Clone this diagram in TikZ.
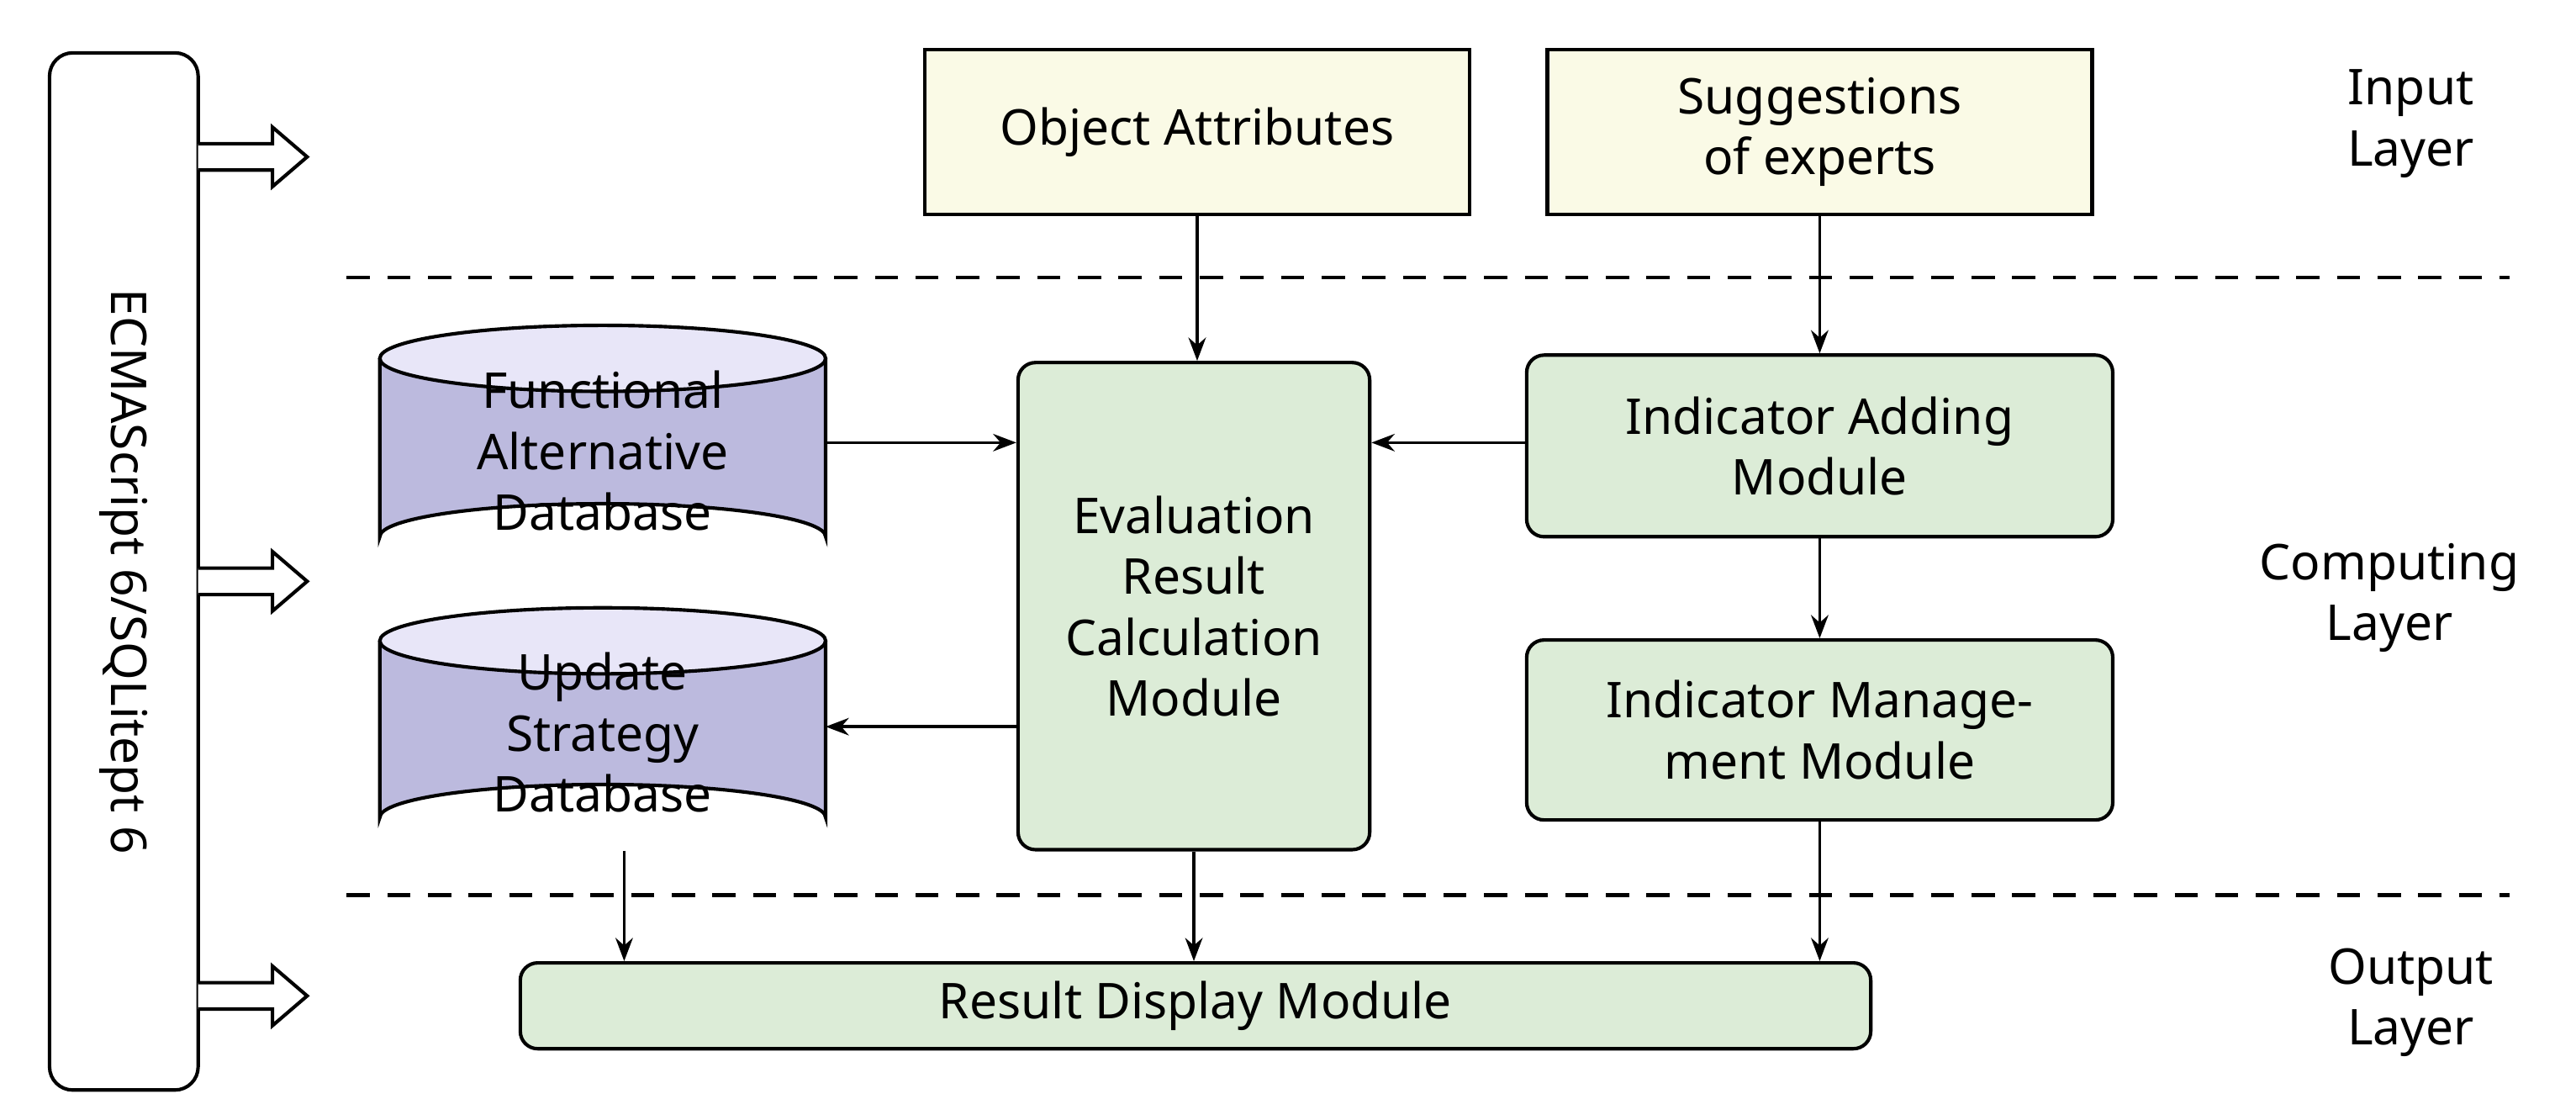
\documentclass[tikz,border=0pt]{standalone}
\usepackage{fontspec}
\setmainfont{Noto Sans}
\usetikzlibrary{arrows.meta}
\definecolor{yel}{RGB}{250,250,230}
\definecolor{grn}{RGB}{220,236,215}
\definecolor{pur}{RGB}{188,186,222}
\definecolor{purt}{RGB}{232,230,248}
\begin{document}
\begin{tikzpicture}[x=0.02cm,y=-0.02cm,
 box/.style={draw,line width=1.2pt,align=center,font=\fontsize{17}{21}\selectfont,inner sep=0pt},
 mod/.style={box,fill=grn,rounded corners=6pt},
 inp/.style={box,fill=yel},
 lay/.style={align=center,font=\fontsize{17}{21}\selectfont},
 arr/.style={-{Stealth[length=8pt,width=6pt]},line width=1pt},
 sep/.style={line width=1.3pt,dash pattern=on 8pt off 6pt}]
\useasboundingbox (0,0) rectangle (1560,675);
% left bar
\draw[line width=1.2pt,rounded corners=8pt] (30,32) rectangle (120,660);
\node[rotate=-90,font=\fontsize{17}{21}\selectfont] (ecma) at (75,346) {ECMAScript 6/SQLitept 6};
\foreach \y in {95,352,603}{
 \draw[line width=1.2pt,fill=white] (120,\y-8) -- (165,\y-8) -- (165,\y-18) -- (186,\y) -- (165,\y+18) -- (165,\y+8) -- (120,\y+8);
}
% input
\node[inp,minimum width=6.6cm,minimum height=2cm] (oa) at (725,80) {Object Attributes};
\node[inp,minimum width=6.6cm,minimum height=2cm] (se) at (1102,80) {Suggestions\\of experts};
% layer labels
\node[lay] (il) at (1460,75) {Input\\Layer};
\node[lay] (cl) at (1447,362) {Computing\\Layer};
\node[lay] (ol) at (1460,607) {Output\\Layer};
% dashed
\coordinate (d1a) at (210,168); \coordinate (d1b) at (1520,168);
\coordinate (d2a) at (210,542); \coordinate (d2b) at (1520,542);
\draw[sep] (d1a) -- (d1b);
\draw[sep] (d2a) -- (d2b);
% cylinders
\foreach \t/\b/\nm/\txt in {197/345/fa/{Functional\\Alternative\\Database},368/515/us/{Update\\Strategy\\Database}}{
 \fill[pur] (230,\t+20) -- (230,\b-20) arc[start angle=180,end angle=360,x radius=135,y radius=20] -- (500,\t+20) -- cycle;
 \fill[purt] (365,\t+20) ellipse[x radius=135,y radius=20];
 \draw[line width=1.2pt] (230,\t+20) -- (230,\b-20) arc[start angle=180,end angle=360,x radius=135,y radius=20] -- (500,\t+20);
 \draw[line width=1.2pt] (365,\t+20) ellipse[x radius=135,y radius=20];
 \node[lay] (\nm) at (365,{(\t+\b)/2+2}) {\txt};
}
% modules
\node[mod,minimum width=4.26cm,minimum height=5.9cm] (ev) at (723,367) {Evaluation\\Result\\Calculation\\Module};
\node[mod,minimum width=7.1cm,minimum height=2.2cm] (ia) at (1102,270) {Indicator Adding\\Module};
\node[mod,minimum width=7.1cm,minimum height=2.18cm] (im) at (1102,442) {Indicator Manage-\\ment Module};
\node[mod,minimum width=16.36cm,minimum height=1.04cm] (rd) at (724,609) {Result Display Module};
% connectors
\draw[arr] (oa.south) -- (ev.north -| oa.south);
\draw[arr] (se.south) -- (ia.north -| se.south);
\draw[arr] (500,268) -- (ev.west |- 0,268);
\draw[arr] (ia.west |- 0,268) -- (ev.east |- 0,268);
\draw[arr] (ev.west |- 0,440) -- (500,440);
\draw[arr] (ia) -- (im);
\draw[arr] (378,515) -- (rd.north -| 378,0);
\draw[arr] (ev.south) -- (rd.north -| ev.south);
\draw[arr] (im.south) -- (rd.north -| im.south);
\end{tikzpicture}
\end{document}
